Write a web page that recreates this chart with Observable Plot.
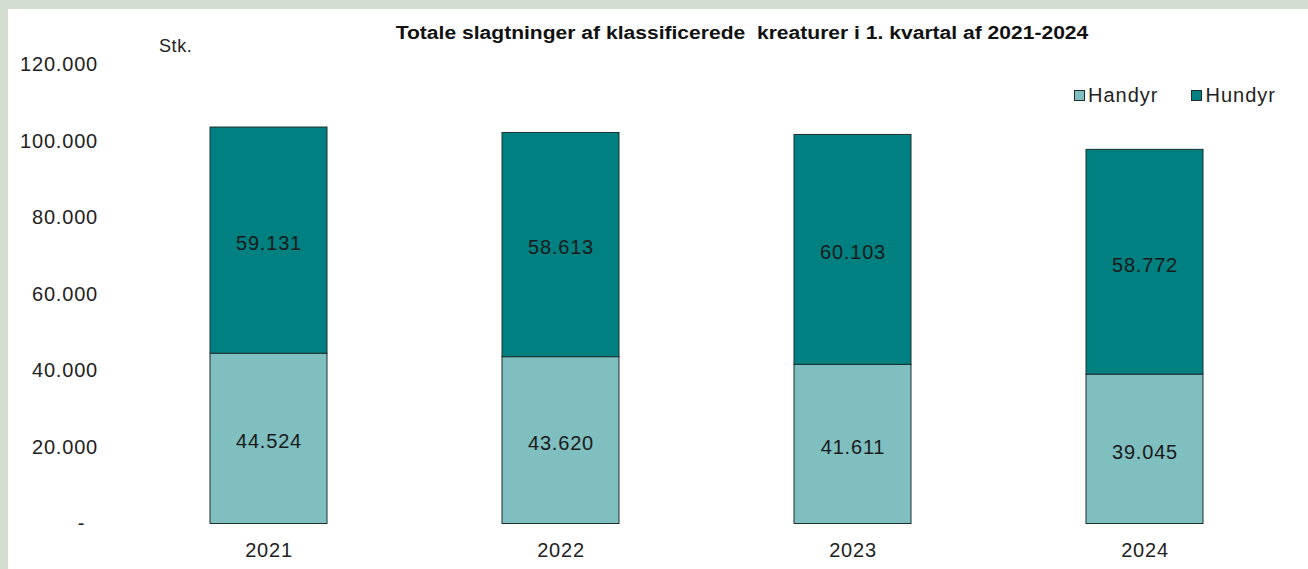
<!DOCTYPE html>
<html>
<head>
<meta charset="utf-8">
<script src="https://cdn.jsdelivr.net/npm/d3@7"></script>
<script src="https://cdn.jsdelivr.net/npm/@observablehq/plot@0.6"></script>
<style>
  html, body { margin: 0; padding: 0; }
  body { background: #d3ddd0; width: 1308px; height: 569px; overflow: hidden; font-family: "Liberation Sans", Arial, sans-serif; }
  #panel { position: absolute; left: 8px; top: 9px; width: 1300px; height: 560px; background: #fff; }
  #title { position: absolute; left: 733.5px; top: 14px; transform: translateX(-50%) scaleX(1.17); font-weight: bold; font-size: 18px; color: #111; white-space: pre; }
  #unit { position: absolute; left: 151px; top: 27px; font-size: 18px; color: #222; letter-spacing: 0.6px; }
  #legend { position: absolute; left: 1066px; top: 75px; font-size: 20px; color: #222; display: flex; gap: 33px; letter-spacing: 1px; }
  #legend span.item { display: flex; align-items: center; }
  #legend span.sw { display: inline-block; width: 9px; height: 9px; border: 1px solid #1f2f2f; margin-right: 3px; }
  #chart { position: absolute; left: 0; top: 0; }
  #chart svg text { letter-spacing: 0.8px; }
</style>
</head>
<body>
<div id="panel">
  <div id="chart"></div>
  <div id="title"></div>
  <div id="unit"></div>
  <div id="legend"></div>
</div>
<script>
const years = ["2021", "2022", "2023", "2024"];
const handyr = [44524, 43620, 41611, 39045];
const hundyr = [59131, 58613, 60103, 58772];
const seriesNames = ["Handyr", "Hundyr"];
const seriesColors = ["#7fbfbf", "#008080"];
const yTicks = [0, 20000, 40000, 60000, 80000, 100000, 120000];
const titleText = "Totale slagtninger af klassificerede\u00a0 kreaturer i 1. kvartal af 2021-2024";
const unitText = "Stk.";

const locale = d3.formatLocale({decimal: ",", thousands: ".", grouping: [3], currency: ["", ""]});
const fmt = locale.format(",d");

const data = [];
years.forEach((yr, i) => {
  data.push({year: yr, series: seriesNames[0], value: handyr[i]});
  data.push({year: yr, series: seriesNames[1], value: hundyr[i]});
});

const plot = Plot.plot({
  width: 1300,
  height: 560,
  marginTop: 55.5,
  marginBottom: 45.5,
  marginLeft: 112.5,
  marginRight: 16.5,
  style: {fontFamily: "Liberation Sans, Arial, sans-serif", fontSize: "20px", color: "#222", background: "transparent"},
  x: {domain: years, paddingInner: 0.6, paddingOuter: 0.3, label: null},
  y: {domain: [0, 120000], label: null},
  color: {domain: seriesNames, range: seriesColors},
  marks: [
    Plot.barY(data, Plot.stackY({x: "year", y: "value", z: "series", order: seriesNames, fill: "series", stroke: "#1f2f2f", strokeWidth: 1})),
    Plot.text(data, Plot.stackY({x: "year", y: "value", z: "series", order: seriesNames, text: d => fmt(d.value), fill: "#1a1a1a", fontSize: 20, dy: 3})),
    Plot.axisY({ticks: yTicks, tickSize: 0, tickPadding: 23, tickFormat: d => d === 0 ? "-\u00a0\u00a0" : fmt(d), fontSize: 20}),
    Plot.axisX({tickSize: 0, tickPadding: 19, fontSize: 20})
  ]
});
document.getElementById("chart").appendChild(plot);

document.getElementById("title").textContent = titleText;
document.getElementById("unit").textContent = unitText;
const leg = document.getElementById("legend");
seriesNames.forEach((n, i) => {
  const it = document.createElement("span");
  it.className = "item";
  const sw = document.createElement("span");
  sw.className = "sw";
  sw.style.background = seriesColors[i];
  it.appendChild(sw);
  it.appendChild(document.createTextNode(n));
  leg.appendChild(it);
});
</script>
</body>
</html>
